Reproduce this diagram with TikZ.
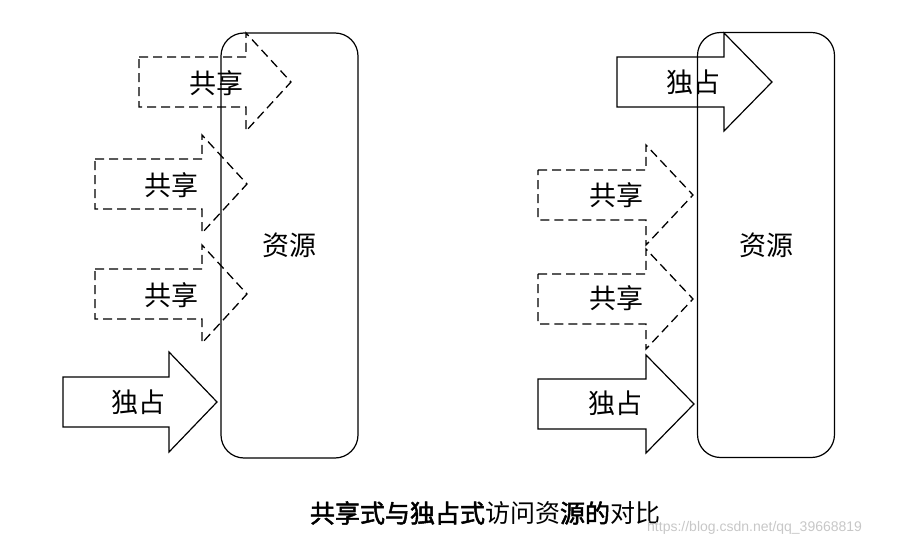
\documentclass[tikz,border=0pt]{standalone}
\usepackage{fontspec}
\newfontfamily\cjk[AutoFakeBold=2]{Noto Sans CJK SC}
\newfontfamily\wmfont{Liberation Sans}
\tikzset{
  res/.style={draw, rounded corners=23pt, minimum width=137pt, minimum height=425pt,
    line width=1.2pt, font=\cjk\fontsize{27}{30}\selectfont},
  shared/.style={draw, dash pattern=on 9pt off 5pt, line width=1.3pt},
  excl/.style={draw, line width=1.2pt},
  lbl/.style={inner sep=0pt, font=\cjk\fontsize{27}{30}\selectfont}
}
\begin{document}
\begin{tikzpicture}[x=1pt,y=-1pt]
  \useasboundingbox (0,0) rectangle (900,545);

  % left: shared + one exclusive
  \node[res] (resL) at (289.5,245.5) {资源};
  \foreach \xl/\xn/\xt/\yc in {139/246/291/82,95/202/247/184,95/202/247/294} {
    \draw[shared] (\xl,\yc-25) -- (\xn,\yc-25) -- (\xn,\yc-49) -- (\xt,\yc)
      -- (\xn,\yc+49) -- (\xn,\yc+25) -- (\xl,\yc+25) -- cycle;}
  \draw[excl] (63,377) -- (169,377) -- (169,352) -- (217,402)
    -- (169,452) -- (169,427) -- (63,427) -- cycle;
  \node[lbl] (shL1) at (216,83) {共享};
  \node[lbl] (shL2) at (171,185) {共享};
  \node[lbl] (shL3) at (171,295) {共享};
  \node[lbl] (exL) at (138,402) {独占};

  % right: exclusive on top, shared in the middle
  \node[res] (resR) at (766,245) {资源};
  \foreach \xl/\xn/\xt/\yc in {617/724/772/82,538/646/694/404} {
    \draw[excl] (\xl,\yc-25) -- (\xn,\yc-25) -- (\xn,\yc-49) -- (\xt,\yc)
      -- (\xn,\yc+49) -- (\xn,\yc+25) -- (\xl,\yc+25) -- cycle;}
  \foreach \xl/\xn/\xt/\yc in {538/646/693/195,538/646/693/299} {
    \draw[shared] (\xl,\yc-25) -- (\xn,\yc-25) -- (\xn,\yc-50) -- (\xt,\yc)
      -- (\xn,\yc+50) -- (\xn,\yc+25) -- (\xl,\yc+25) -- cycle;}
  \node[lbl] (exR1) at (693,82) {独占};
  \node[lbl] (shR1) at (616,195) {共享};
  \node[lbl] (shR2) at (616,298) {共享};
  \node[lbl] (exR2) at (615,403) {独占};

  % caption
  \node[inner sep=0pt, font=\cjk\fontsize{25}{28}\selectfont] (cap) at (485,513)
    {{\bfseries 共享式与独占式}访问资{\bfseries 源的}对比};
  \node[inner sep=0pt, anchor=west, text=black!22, font=\wmfont\fontsize{14}{16}\selectfont]
    (wm) at (647,528) {https://blog.csdn.net/qq\_39668819};
\end{tikzpicture}
\end{document}
